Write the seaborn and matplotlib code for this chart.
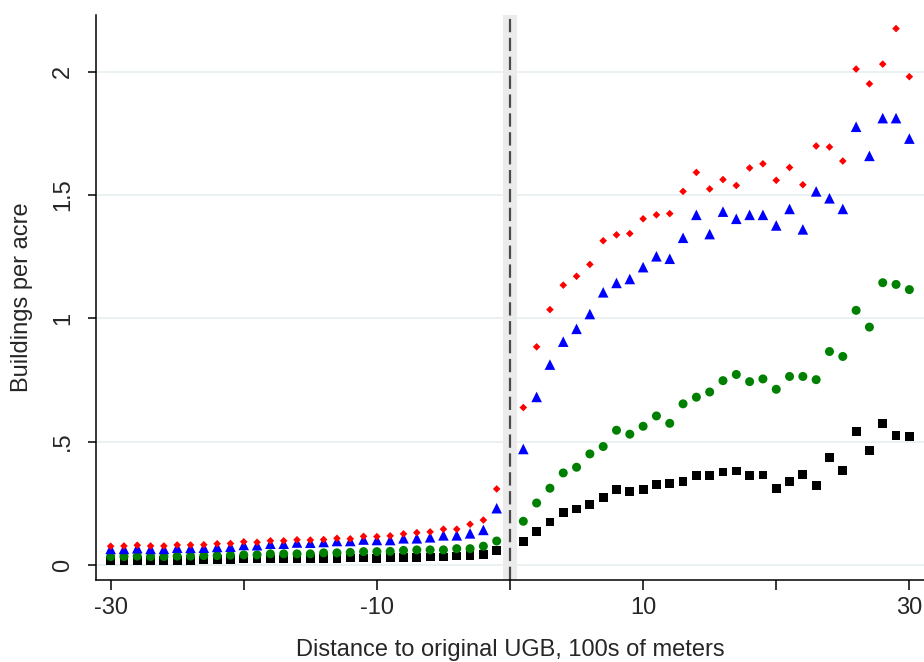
import pandas as pd
import seaborn as sns
import matplotlib.pyplot as plt

# distance bins (no bin at 0)
distance = list(range(-30, 0)) + list(range(1, 31))

red_vals = [0.076, 0.077, 0.080, 0.077, 0.077, 0.081, 0.081, 0.082, 0.086, 0.087,
            0.094, 0.092, 0.098, 0.098, 0.102, 0.101, 0.103, 0.108, 0.106, 0.116,
            0.115, 0.118, 0.126, 0.131, 0.134, 0.145, 0.145, 0.165, 0.182, 0.308,
            0.638, 0.884, 1.035, 1.134, 1.170, 1.218, 1.314, 1.338, 1.343, 1.403,
            1.419, 1.424, 1.514, 1.591, 1.524, 1.562, 1.538, 1.609, 1.626, 1.559,
            1.611, 1.541, 1.698, 1.694, 1.637, 2.010, 1.950, 2.030, 2.174, 1.979]

blue_vals = [0.065, 0.065, 0.068, 0.065, 0.065, 0.070, 0.069, 0.070, 0.073, 0.074,
             0.081, 0.080, 0.086, 0.086, 0.091, 0.090, 0.093, 0.097, 0.097, 0.103,
             0.101, 0.101, 0.108, 0.108, 0.112, 0.120, 0.120, 0.128, 0.142, 0.230,
             0.470, 0.681, 0.812, 0.905, 0.957, 1.017, 1.105, 1.143, 1.159, 1.207,
             1.251, 1.241, 1.326, 1.419, 1.341, 1.432, 1.403, 1.419, 1.419, 1.376,
             1.443, 1.360, 1.514, 1.486, 1.443, 1.776, 1.658, 1.811, 1.811, 1.728]

green_vals = [0.034, 0.034, 0.036, 0.034, 0.034, 0.036, 0.036, 0.038, 0.038, 0.040,
              0.041, 0.041, 0.045, 0.045, 0.045, 0.045, 0.049, 0.049, 0.051, 0.054,
              0.054, 0.055, 0.059, 0.061, 0.061, 0.061, 0.066, 0.066, 0.076, 0.097,
              0.177, 0.251, 0.311, 0.373, 0.396, 0.450, 0.480, 0.546, 0.530, 0.562,
              0.604, 0.574, 0.653, 0.680, 0.701, 0.747, 0.772, 0.743, 0.754, 0.712,
              0.764, 0.764, 0.751, 0.865, 0.845, 1.032, 0.964, 1.144, 1.137, 1.116]

black_vals = [0.018, 0.018, 0.019, 0.018, 0.018, 0.019, 0.019, 0.020, 0.021, 0.021,
              0.024, 0.024, 0.024, 0.024, 0.026, 0.026, 0.026, 0.026, 0.028, 0.028,
              0.027, 0.030, 0.031, 0.031, 0.032, 0.032, 0.036, 0.038, 0.043, 0.057,
              0.096, 0.135, 0.174, 0.214, 0.227, 0.246, 0.274, 0.305, 0.297, 0.306,
              0.327, 0.331, 0.338, 0.361, 0.361, 0.377, 0.381, 0.361, 0.365, 0.309,
              0.338, 0.366, 0.323, 0.434, 0.382, 0.541, 0.464, 0.572, 0.524, 0.521]

xtick_vals = [-30, -20, -10, 0, 10, 20, 30]
xtick_labels = ['-30', '', '-10', '', '10', '', '30']
ytick_vals = [0, 0.5, 1, 1.5, 2]
ytick_labels = ['0', '.5', '1', '1.5', '2']

# long format, drawn bottom-up: black, green, blue, red
frames = []
for name, vals in [('black', black_vals), ('green', green_vals),
                   ('blue', blue_vals), ('red', red_vals)]:
    frames.append(pd.DataFrame({'distance': distance, 'buildings': vals, 'series': name}))
df = pd.concat(frames, ignore_index=True)

sns.set_style('white')
plt.rcParams['font.family'] = ['Liberation Sans', 'DejaVu Sans']

fig = plt.figure(figsize=(9.24, 6.62), dpi=100)
ax = fig.add_axes([96 / 924, 82 / 662, 828 / 924, 565 / 662])

# reference band + dashed line at the boundary
ax.axvspan(-0.5, 0.5, color='#ebebeb', lw=0, zorder=1)
ax.axvline(0, color='#4a4a4a', lw=1.6, ls=(0, (6, 2.5)), zorder=2)

for y in ytick_vals:
    ax.axhline(y, color='#e6eff1', lw=1.2, zorder=0)

sns.scatterplot(data=df, x='distance', y='buildings', hue='series', style='series',
                size='series',
                palette={'black': '#000000', 'green': '#008000', 'blue': '#0000ff', 'red': '#ff0000'},
                markers={'black': 's', 'green': 'o', 'blue': '^', 'red': 'D'},
                sizes={'black': 40, 'green': 42, 'blue': 58, 'red': 15},
                linewidth=0, legend=False, ax=ax, zorder=3)

ax.set_xlim(-31.1, 31.1)
ax.set_ylim(-0.061, 2.229)
ax.set_xticks(xtick_vals)
ax.set_xticklabels(xtick_labels)
ax.set_yticks(ytick_vals)
ax.set_yticklabels(ytick_labels, rotation=90, va='center')
ax.tick_params(axis='x', length=7, width=1.1, pad=5, labelsize=17, color='black', direction='out')
ax.tick_params(axis='y', length=6, width=1.1, pad=10, labelsize=17, color='black', direction='out')
ax.tick_params(bottom=True, left=True)

sns.despine(ax=ax)
for side in ['left', 'bottom']:
    ax.spines[side].set_color('black')
    ax.spines[side].set_linewidth(1.1)

ax.set_xlabel('Distance to original UGB, 100s of meters', fontsize=17, va='top')
ax.xaxis.set_label_coords(0.5, -0.105)
ax.set_ylabel('Buildings per acre', fontsize=17, va='center')
ax.yaxis.set_label_coords(-0.089, 0.5)

fig.savefig('out.png', dpi=100)
